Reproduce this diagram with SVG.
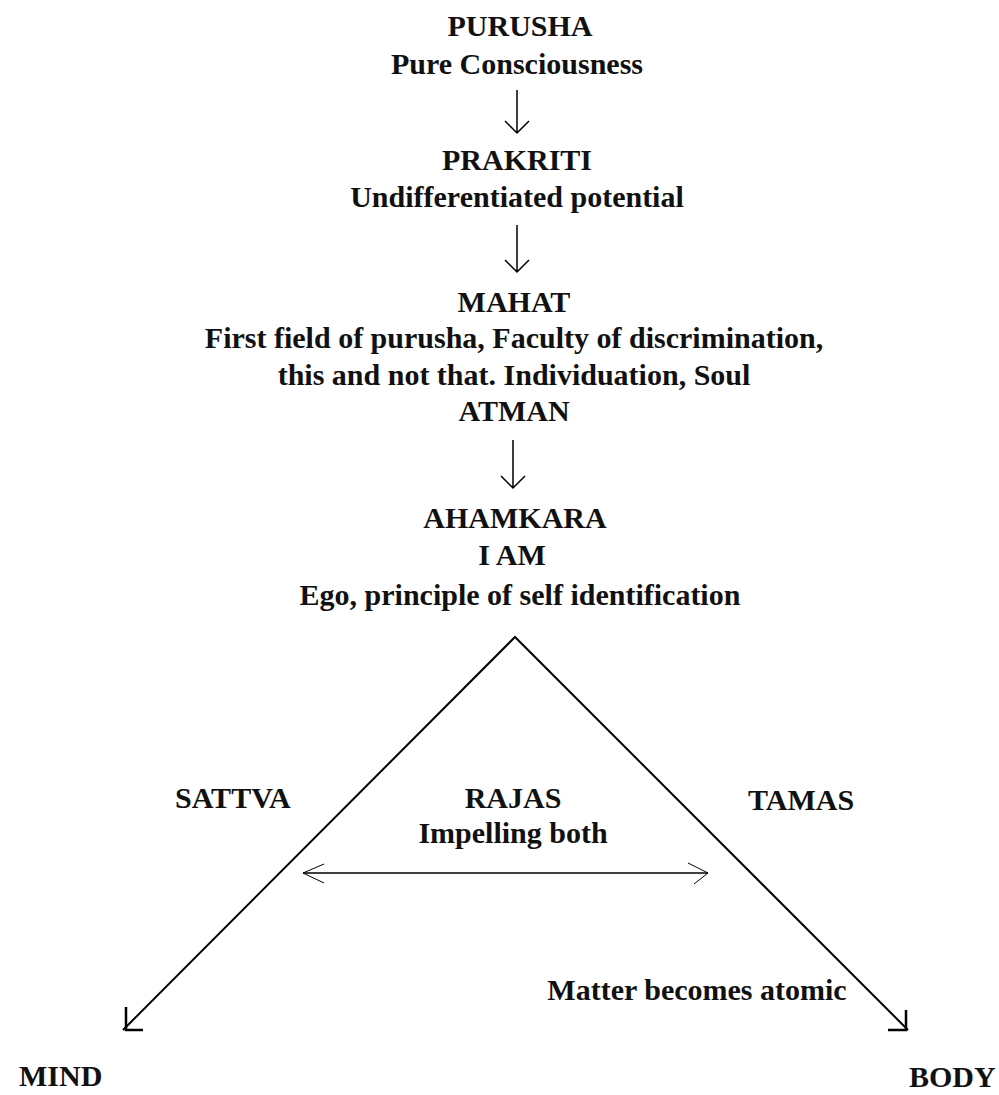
<svg xmlns="http://www.w3.org/2000/svg" width="999" height="1095" viewBox="0 0 999 1095">
<style>
text{font-family:"Liberation Serif","Times New Roman",serif;font-weight:bold;font-size:30px;fill:#111;}
.c{text-anchor:middle;}
.ln{stroke:#000;stroke-width:2;fill:none;}
.hd{stroke:#000;stroke-width:2.5;fill:none;}
.thin{stroke:#000;stroke-width:1.5;fill:none;}
.th{stroke:#000;stroke-width:1;fill:none;}
</style>
<rect width="999" height="1095" fill="#fff"/>
<g id="purusha"><text class="c" x="520" y="36">PURUSHA</text><text class="c" x="517" y="74">Pure Consciousness</text></g>
<g id="prakriti"><text class="c" x="517" y="170">PRAKRITI</text><text class="c" x="517" y="207">Undifferentiated potential</text></g>
<g id="mahat"><text class="c" x="514" y="312">MAHAT</text><text class="c" x="514" y="348">First field of purusha, Faculty of discrimination,</text><text class="c" x="514" y="385">this and not that. Individuation, Soul</text><text class="c" x="514" y="421">ATMAN</text></g>
<g id="ahamkara"><text class="c" x="515" y="528">AHAMKARA</text><text class="c" x="512" y="565">I AM</text><text class="c" x="520" y="605">Ego, principle of self identification</text></g>
<g id="sattva"><text x="175" y="808">SATTVA</text></g>
<g id="tamas"><text x="748" y="810">TAMAS</text></g>
<g id="rajas"><text class="c" x="513" y="808">RAJAS</text><text class="c" x="513" y="843">Impelling both</text></g>
<g id="matter"><text class="c" x="697" y="1000">Matter becomes atomic</text></g>
<g id="mind"><text x="19" y="1086">MIND</text></g>
<g id="body"><text x="909" y="1087">BODY</text></g>
<g id="connectors">
<path class="thin" d="M517 90V133M505 121L517 133L529 121"/>
<path class="thin" d="M517 225V272M505 260L517 272L529 260"/>
<path class="thin" d="M513 440V488M501 476L513 488L525 476"/>
<path class="ln" d="M123 1030L515 637L908 1030"/>
<path class="hd" d="M126 1007V1030H143"/>
<path class="hd" d="M906 1010V1030H888"/>
<path class="thin" d="M303 873H708"/>
<path class="th" d="M324 864L303 873L324 883M688 863L708 873L694 884"/>
</g>
</svg>
